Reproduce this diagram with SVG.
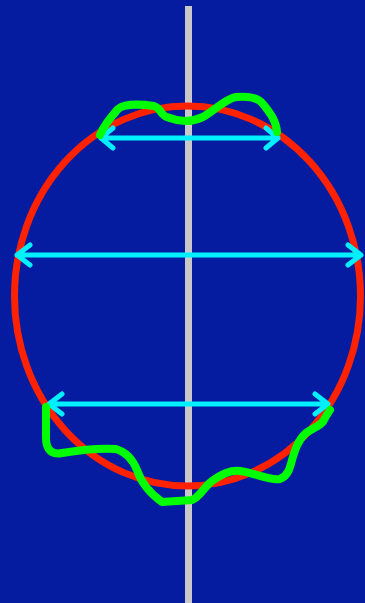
<svg xmlns="http://www.w3.org/2000/svg" width="365" height="603" viewBox="0 0 365 603">
<style>
.axis{stroke:#c8c8c8;stroke-width:7}
.outline{fill:none;stroke:#ff2200;stroke-width:7}
.arrow{fill:none;stroke:#00f0ff;stroke-width:5;stroke-linecap:round;stroke-linejoin:round}
.wave{fill:none;stroke:#00ff00;stroke-width:8;stroke-linecap:round;stroke-linejoin:round}
</style>
<rect x="0" y="0" width="365" height="603" fill="#051ca0"/>
<g id="axis"><line class="axis" x1="188.5" y1="6" x2="188.5" y2="603"/></g>
<g id="outline"><ellipse class="outline" cx="187.5" cy="296" rx="173" ry="190"/></g>
<g id="connectors">
<path class="arrow" d="M101,138 H278 M113,128 L101,138 L113,148 M266,128 L278,138 L266,148"/>
<path class="arrow" d="M17,255 H361 M30,245 L17,255 L30,265 M348,245 L361,255 L348,265"/>
<path class="arrow" d="M49,404 H328 M62,394 L49,404 L62,414 M315,394 L328,404 L315,414"/>
</g>
<g id="wave-top"><path class="wave" d="M100,135 C103,127 110,118 118,109 C124,104 140,104 154,106 C163,109 158,115 170,118 C180,122 192,122 203,117 C215,110 225,99 236,97 C248,96 258,97 263,104 C270,113 276,120 277,132"/></g>
<g id="wave-bottom"><path class="wave" d="M46,407 L46,438 C46,450 52,455 62,453 C80,450 100,448 116,449 C126,452 133,460 137,470 C141,482 148,492 162,502 L192,500 C200,497 203,488 212,481 C222,474 230,470 240,471 C255,473 270,481 280,479 C288,476 290,468 292,460 C295,450 298,440 306,433 C314,427 322,426 325,418 L330,410"/></g>
</svg>
